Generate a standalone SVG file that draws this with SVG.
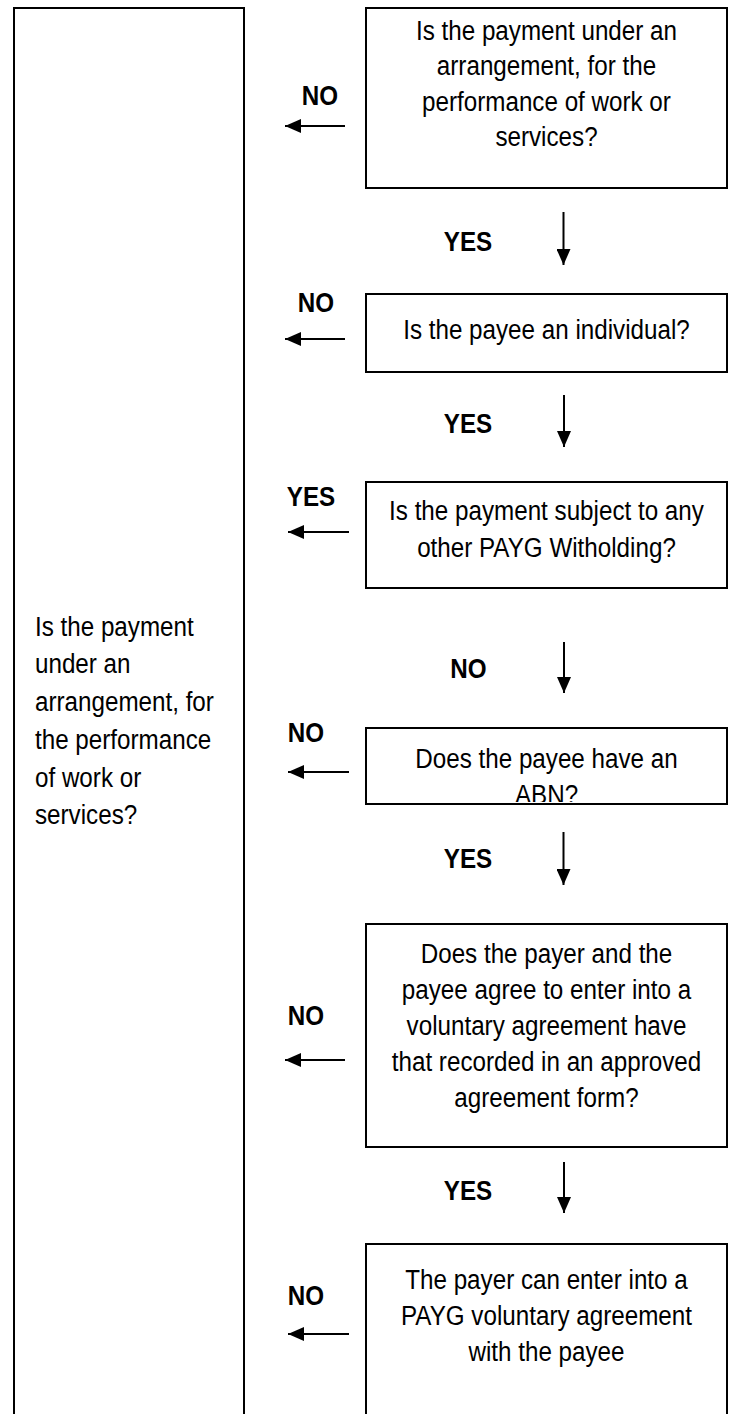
<svg xmlns="http://www.w3.org/2000/svg" width="733" height="1414" viewBox="0 0 733 1414">
<style>
.box{fill:#fff;stroke:#000;stroke-width:2}
.t{font-family:"Liberation Sans",Arial,sans-serif;font-size:28px;fill:#000}
.c{text-anchor:middle}
.lbl{font-family:"Liberation Sans",Arial,sans-serif;font-size:28px;font-weight:bold;fill:#000;text-anchor:middle}
.arr{stroke:#000;stroke-width:2;fill:none;marker-end:url(#ah)}
</style>
<defs>
<marker id="ah" markerUnits="userSpaceOnUse" markerWidth="16" markerHeight="14" refX="16" refY="7" orient="auto">
<path d="M0,0 L16,7 L0,14 Z" fill="#000"/>
</marker>
<clipPath id="clip4"><rect x="367" y="729" width="359" height="73"/></clipPath>
</defs>
<rect width="733" height="1414" fill="#fff"/>

<g id="left-box">
<rect class="box" x="14" y="8" width="230" height="1420"/>
<g transform="scale(0.865,1)">
<text class="t" x="40.46" y="636">Is the payment</text>
<text class="t" x="40.46" y="673">under an</text>
<text class="t" x="40.46" y="711">arrangement, for</text>
<text class="t" x="40.46" y="749">the performance</text>
<text class="t" x="40.46" y="787">of work or</text>
<text class="t" x="40.46" y="824">services?</text>
</g>
</g>

<g id="q1">
<rect class="box" x="366" y="8" width="361" height="180"/>
<g transform="scale(0.865,1)">
<text class="t c" x="631.79" y="40">Is the payment under an</text>
<text class="t c" x="631.79" y="75">arrangement, for the</text>
<text class="t c" x="631.79" y="111">performance of work or</text>
<text class="t c" x="631.79" y="146">services?</text>
</g>
</g>

<g id="q2">
<rect class="box" x="366" y="294" width="361" height="78"/>
<g transform="scale(0.865,1)">
<text class="t c" x="631.79" y="339">Is the payee an individual?</text>
</g>
</g>

<g id="q3">
<rect class="box" x="366" y="482" width="361" height="106"/>
<g transform="scale(0.865,1)">
<text class="t c" x="631.79" y="520">Is the payment subject to any</text>
<text class="t c" x="631.79" y="557">other PAYG Witholding?</text>
</g>
</g>

<g id="q4">
<rect class="box" x="366" y="728" width="361" height="76"/>
<g clip-path="url(#clip4)">
<g transform="scale(0.865,1)">
<text class="t c" x="631.79" y="768">Does the payee have an</text>
<text class="t c" x="631.79" y="804">ABN?</text>
</g>
</g>
</g>

<g id="q5">
<rect class="box" x="366" y="924" width="361" height="223"/>
<g transform="scale(0.865,1)">
<text class="t c" x="631.79" y="963">Does the payer and the</text>
<text class="t c" x="631.79" y="999">payee agree to enter into a</text>
<text class="t c" x="631.79" y="1035">voluntary agreement have</text>
<text class="t c" x="631.79" y="1071">that recorded in an approved</text>
<text class="t c" x="631.79" y="1107">agreement form?</text>
</g>
</g>

<g id="result">
<rect class="box" x="366" y="1244" width="361" height="200"/>
<g transform="scale(0.865,1)">
<text class="t c" x="631.79" y="1289">The payer can enter into a</text>
<text class="t c" x="631.79" y="1325">PAYG voluntary agreement</text>
<text class="t c" x="631.79" y="1361">with the payee</text>
</g>
</g>

<g id="connectors">
<line class="arr" x1="345" y1="126" x2="285" y2="126"/>
<line class="arr" x1="345" y1="339" x2="285" y2="339"/>
<line class="arr" x1="349" y1="532" x2="288" y2="532"/>
<line class="arr" x1="349" y1="772" x2="288" y2="772"/>
<line class="arr" x1="345" y1="1060" x2="285" y2="1060"/>
<line class="arr" x1="349" y1="1334" x2="288" y2="1334"/>
<line class="arr" x1="563.5" y1="212" x2="563.5" y2="265"/>
<line class="arr" x1="564" y1="395" x2="564" y2="447"/>
<line class="arr" x1="564" y1="642" x2="564" y2="693"/>
<line class="arr" x1="563.5" y1="832" x2="563.5" y2="885"/>
<line class="arr" x1="564" y1="1162" x2="564" y2="1213"/>
<g transform="scale(0.865,1)">
<text class="lbl" x="369.94" y="105">NO</text>
<text class="lbl" x="365.32" y="312">NO</text>
<text class="lbl" x="359.54" y="506">YES</text>
<text class="lbl" x="353.76" y="742">NO</text>
<text class="lbl" x="353.76" y="1025">NO</text>
<text class="lbl" x="353.76" y="1305">NO</text>
<text class="lbl" x="541.04" y="251">YES</text>
<text class="lbl" x="541.04" y="433">YES</text>
<text class="lbl" x="541.62" y="678">NO</text>
<text class="lbl" x="541.04" y="868">YES</text>
<text class="lbl" x="541.04" y="1200">YES</text>
</g>
</g>
</svg>
